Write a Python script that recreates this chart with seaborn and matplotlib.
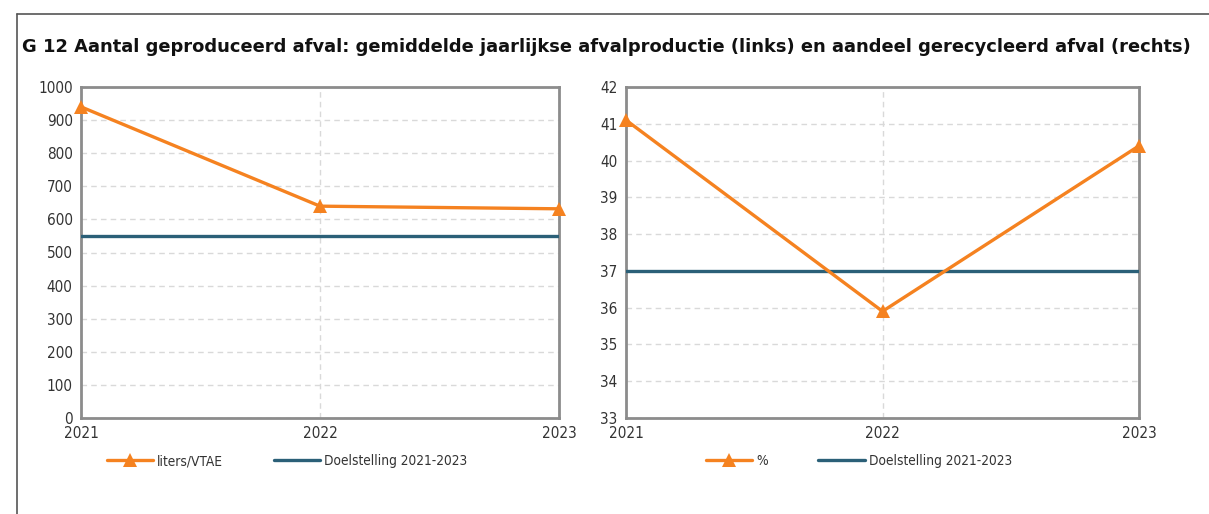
import matplotlib
matplotlib.use("Agg")
import matplotlib.pyplot as plt
from matplotlib.lines import Line2D
import pandas as pd
import seaborn as sns

# data
years = [2021, 2022, 2023]
liters_per_vtae = [940, 640, 632]
target_liters = [550, 550, 550]
recycled_pct = [41.1, 35.9, 40.4]
target_pct = [37, 37, 37]

title = ("G 12 Aantal geproduceerd afval: gemiddelde jaarlijkse afvalproductie "
         "(links) en aandeel gerecycleerd afval (rechts)")

ORANGE = "#F58220"
TEAL = "#2B6078"
SPINE = "#8C8C8C"
GRID = "#D9D9D9"
TEXT = "#333333"

sns.set_theme(style="white")
plt.rcParams["font.family"] = ["DejaVu Sans"]

W, H = 1209, 514
fig = plt.figure(figsize=(W / 100, H / 100), dpi=100)


def frac_box(x0, y0, x1, y1):
    return [x0 / W, 1 - y1 / H, (x1 - x0) / W, (y1 - y0) / H]


# outer frame (left and top edges)
fig.add_artist(Line2D([17 / W, 17 / W], [0, 1 - 14 / H], color="#555555", lw=1.2))
fig.add_artist(Line2D([17 / W, 1.0], [1 - 14 / H, 1 - 14 / H], color="#555555", lw=1.2))

fig.text(22 / W, 1 - 47 / H, title, fontsize=12.9, fontweight="bold",
         color="#111111", va="center", ha="left")


def draw_panel(ax, values, target, label, yticks, leg_x):
    df = pd.DataFrame({"jaar": years, "waarde": values, "doel": target})
    sns.lineplot(data=df, x="jaar", y="waarde", ax=ax, color=ORANGE, lw=2.4,
                 marker="^", markersize=10, markeredgewidth=0, label=label,
                 zorder=4, clip_on=False)
    sns.lineplot(data=df, x="jaar", y="doel", ax=ax, color=TEAL, lw=2.4,
                 label="Doelstelling 2021-2023", zorder=3)
    ax.set_xlim(years[0], years[-1])
    ax.set_ylim(yticks[0], yticks[-1])
    ax.set_xticks(years)
    ax.set_yticks(yticks)
    ax.set_xlabel("")
    ax.set_ylabel("")
    ax.grid(True, color=GRID, linestyle=(0, (4, 3)), lw=1)
    for s in ax.spines.values():
        s.set_color(SPINE)
        s.set_linewidth(2)
    ax.tick_params(axis="both", labelsize=11, labelcolor=TEXT, color=SPINE,
                   length=4, width=1.5, direction="out", pad=2)
    ax.tick_params(axis="x", length=0, pad=6)
    for t in ax.get_xticklabels() + ax.get_yticklabels():
        t.set_fontstretch("condensed")
    leg = ax.legend(loc="center", bbox_to_anchor=(leg_x, -0.13), ncol=2,
                    frameon=False, fontsize=9.8, handlelength=3.4,
                    columnspacing=3.7, labelcolor=TEXT, handletextpad=0.3)
    for t in leg.get_texts():
        t.set_fontstretch("condensed")


ax1 = fig.add_axes(frac_box(81, 87, 559, 418))
draw_panel(ax1, liters_per_vtae, target_liters, "liters/VTAE",
           list(range(0, 1001, 100)), 0.431)

ax2 = fig.add_axes(frac_box(626, 87, 1139, 418))
draw_panel(ax2, recycled_pct, target_pct, "%", list(range(33, 43)), 0.454)

fig.savefig("out.png", dpi=100, facecolor="white")
